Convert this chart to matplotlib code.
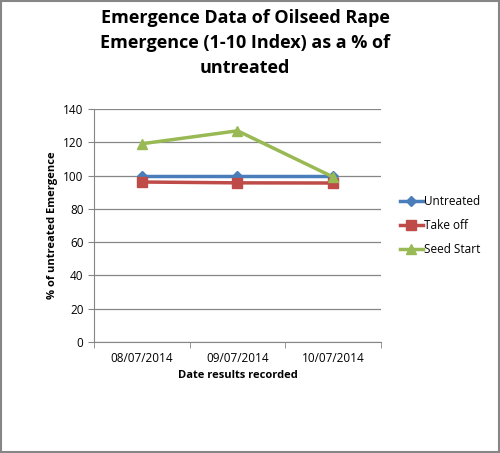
import matplotlib.pyplot as plt
from matplotlib.patches import Rectangle

dates = ["08/07/2014", "09/07/2014", "10/07/2014"]
untreated = [100, 100, 100]
take_off = [96.2, 95.7, 95.6]
seed_start = [119.2, 127.0, 99.2]

plt.rcParams['font.family'] = ['Open Sans', 'DejaVu Sans']

fig = plt.figure(figsize=(5, 4.53), dpi=100)
ax = fig.add_axes([0.188, 0.245, 0.574, 0.514])

x = range(len(dates))
ax.plot(x, untreated, color="#4a7ebb", lw=2.5, marker="D", ms=5, label="Untreated")
ax.plot(x, take_off, color="#be4b48", lw=2.5, marker="s", ms=6.5, label="Take off")
ax.plot(x, seed_start, color="#98b954", lw=2.5, marker="^", ms=7, label="Seed Start")

ax.set_xlim(-0.5, 2.5)
ax.set_ylim(0, 140)
ax.set_yticks(range(0, 141, 20))
ax.set_xticks(x)
ax.set_xticklabels(dates, fontsize=8.5)
ax.set_xticks([-0.5, 0.5, 1.5, 2.5], minor=True)
ax.tick_params(axis="x", which="major", length=0, pad=7)
ax.tick_params(axis="x", which="minor", length=4, color="#868686")
ax.tick_params(axis="y", length=4, color="#868686", labelsize=8.5)
ax.grid(axis="y", color="#868686", lw=0.9)
ax.set_axisbelow(True)
for s in ["top", "right"]:
    ax.spines[s].set_visible(False)
ax.spines["left"].set_color("#868686")
ax.spines["bottom"].set_color("#868686")

ax.set_xlabel("Date results recorded", fontsize=8, fontweight="bold")
ax.set_ylabel("% of untreated Emergence", fontsize=8, fontweight="bold")

fig.text(0.49, 0.98, "Emergence Data of Oilseed Rape\nEmergence (1-10 Index) as a % of\nuntreated",
         ha="center", va="top", fontsize=13, fontweight="bold", linespacing=1.5)

ax.legend(loc="center left", bbox_to_anchor=(1.05, 0.5), frameon=False,
          fontsize=8.5, handlelength=1.9, handletextpad=0.1, labelspacing=0.9,
          borderaxespad=0)

fig.patches.append(Rectangle((0.002, 0.002), 0.996, 0.996, transform=fig.transFigure,
                             fill=False, edgecolor="#868686", lw=1.5))

fig.savefig("out.png", dpi=100)
